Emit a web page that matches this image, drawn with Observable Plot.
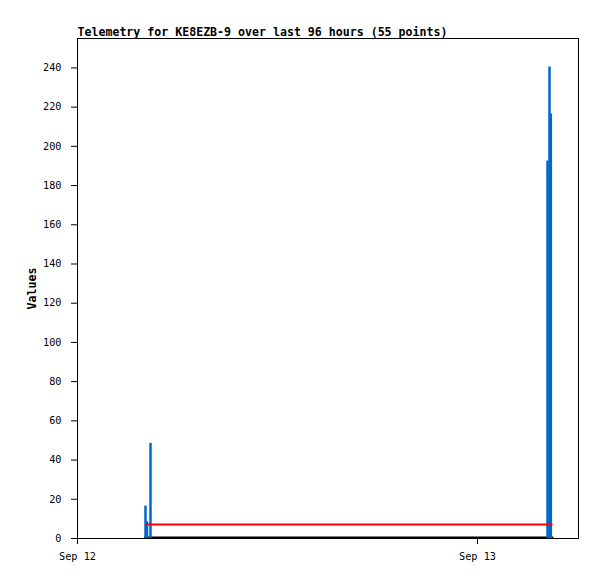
<!DOCTYPE html>
<html>
<head>
<meta charset="utf-8">
<script src="https://cdn.jsdelivr.net/npm/d3@7"></script>
<script src="https://cdn.jsdelivr.net/npm/@observablehq/plot@0.6"></script>
<style>
  body { margin: 0; background: #fff; }
  svg [aria-label="y-axis label"] text { font-weight: bold; font-size: 11.6px; }
</style>
</head>
<body>
<div id="chart"></div>
<script>
const title = "Telemetry for KE8EZB-9 over last 96 hours (55 points)";
const startDay = "2023-09-12T00:00:00Z";
const endTime = "2023-09-13T06:03:36Z";
const xTicks = ["2023-09-12T00:00:00Z", "2023-09-13T00:00:00Z"];
const yTicks = [0, 20, 40, 60, 80, 100, 120, 140, 160, 180, 200, 220, 240];

// blue channel (hours after Sep 12 00:00, value)
const blueHours = [4.08, 4.17, 4.38, 28.2, 28.32, 28.4];
const blueValues = [16.5, 8.5, 48.5, 192.5, 240.5, 216.5];
// red channel
const redHours = [4.17, 4.38, 28.2, 28.32, 28.45];
const redValues = [7.1, 7.1, 7.1, 7.1, 7.1];
// black channel
const blackHours = [4.05, 4.17, 4.38, 28.2, 28.32, 28.5];
const blackValues = [0.5, 0.5, 0.5, 0.5, 0.5, 0.5];

const t0 = new Date(startDay).getTime();
const toDate = h => new Date(t0 + h * 3600e3);
const blue = blueHours.map((h, i) => ({t: toDate(h), v: blueValues[i]}));
const red = redHours.map((h, i) => ({t: toDate(h), v: redValues[i]}));
const black = blackHours.map((h, i) => ({t: toDate(h), v: blackValues[i]}));

const chart = Plot.plot({
  width: 597,
  height: 579,
  marginLeft: 77,
  marginRight: 19,
  marginTop: 38,
  marginBottom: 41,
  style: {fontFamily: "'DejaVu Sans Mono', monospace", fontSize: "10.2px", background: "#fff", color: "#000"},
  x: {type: "utc", domain: [new Date(startDay), new Date(endTime)]},
  y: {domain: [0, 255]},
  marks: [
    Plot.axisX({ticks: xTicks.map(d => new Date(d)), tickFormat: d3.utcFormat("%b %d"), tickSize: 6, tickPadding: 8, label: null}),
    Plot.axisY({ticks: yTicks, tickSize: 6, tickPadding: 10, label: "Values", labelAnchor: "center", labelArrow: "none", labelOffset: 50}),
    Plot.line(black, {x: "t", y: "v", stroke: "#000", strokeWidth: 2}),
    Plot.ruleX(blue, {x: "t", y1: 0, y2: "v", stroke: "#0066cc", strokeWidth: 2.5}),
    Plot.line(red, {x: "t", y: "v", stroke: "#ff0000", strokeWidth: 2}),
    Plot.frame({stroke: "#000"}),
    Plot.text([title], {frameAnchor: "top-left", lineAnchor: "bottom", textAnchor: "start", dy: -3, fontWeight: "bold", fontSize: 11.6})
  ]
});
document.getElementById("chart").append(chart);
</script>
</body>
</html>
